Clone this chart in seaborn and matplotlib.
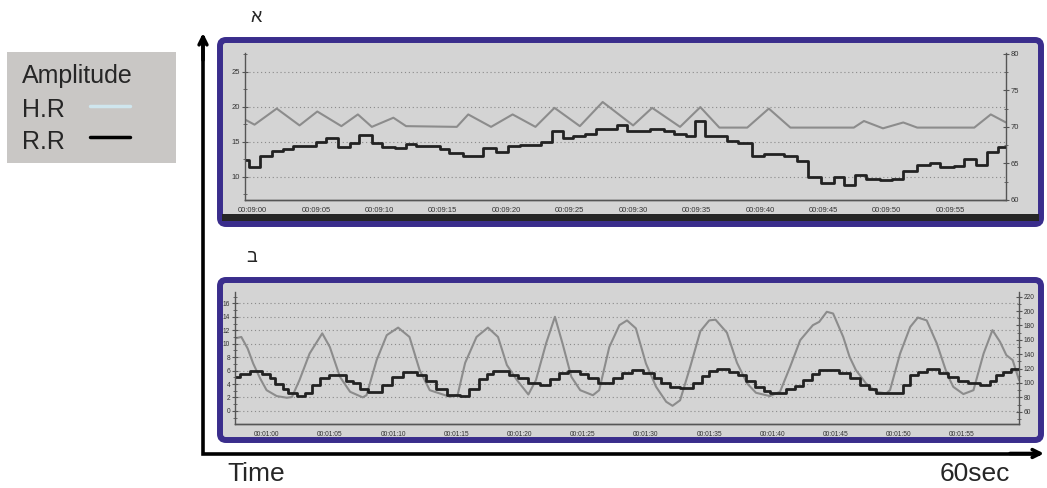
import numpy as np
import pandas as pd
import matplotlib
matplotlib.use('Agg')
import matplotlib.pyplot as plt
import seaborn as sns
from matplotlib.patches import FancyBboxPatch, Rectangle
from matplotlib.ticker import FuncFormatter, MultipleLocator

# panel a: 00:09:00 - 00:10:00 (seconds from 00:09:00)
top_rr_t = [-0.6, -0.3, 0.55, 1.5, 2.4, 3.2, 5.0, 5.8, 6.7, 7.7, 8.4, 9.4, 10.2, 11.2, 12.1, 12.9,
            14.8, 15.5, 16.6, 18.2, 19.2, 20.1, 21.1, 22.7, 23.6, 24.5, 25.3, 26.2, 27.1, 28.7,
            29.5, 30.5, 31.3, 32.4, 33.2, 34.2, 34.9, 35.7, 36.5, 37.4, 38.3, 39.4, 40.3, 41.9,
            42.9, 43.8, 44.8, 45.8, 46.6, 47.5, 48.4, 49.5, 50.4, 51.3, 52.4, 53.4, 54.2, 55.3,
            56.1, 57.0, 57.9, 58.8, 59.4]
top_rr = [12.4, 11.4, 13.0, 13.7, 14.0, 14.4, 15.0, 15.5, 14.3, 14.9, 15.95, 14.8, 14.3, 14.1, 14.7, 14.4,
          14.0, 13.4, 13.0, 14.1, 13.5, 14.4, 14.5, 15.05, 16.6, 15.5, 15.8, 16.2, 16.8, 17.4,
          16.6, 16.5, 16.9, 16.5, 16.2, 15.8, 18.0, 15.8, 15.9, 15.1, 14.8, 13.0, 13.3, 13.0,
          12.3, 10.05, 9.2, 10.05, 8.9, 10.3, 9.7, 9.5, 9.7, 10.8, 11.7, 12.05, 11.4, 11.5,
          12.5, 11.7, 13.5, 14.3, 14.3]
top_hr_t = [-0.6, 0.15, 1.9, 3.7, 5.1, 7.0, 8.3, 9.4, 11.1, 12.1, 16.1, 17.0, 18.8, 20.5, 22.3,
            23.8, 25.8, 27.6, 30.0, 31.5, 33.7, 35.3, 36.8, 39.0, 40.7, 42.4, 47.4, 48.2, 49.7,
            51.3, 52.4, 56.9, 58.2, 59.4]
top_hr = [71.0, 70.3, 72.5, 70.2, 72.1, 70.1, 71.7, 70.0, 71.25, 70.1, 70.0, 71.7, 70.0, 71.7, 70.0,
          72.6, 70.1, 73.4, 70.2, 72.6, 70.0, 72.7, 69.9, 69.9, 72.5, 69.9, 69.9, 70.8, 69.8,
          70.6, 69.9, 69.9, 71.7, 70.6]

# panel b: 00:01:00 - 00:02:00
bot_rr_t = [-2.5, -2.1, -1.3, -0.4, 0.3, 0.65, 1.3, 1.7, 2.4, 3.0, 3.6, 4.2, 4.9, 5.5, 6.3, 6.85,
            7.4, 8.0, 9.1, 9.9, 10.8, 11.9, 12.6, 13.4, 14.3, 15.3, 16.0, 16.8, 17.4, 17.9, 19.2,
            19.9, 20.7, 21.6, 22.4, 23.1, 23.8, 24.8, 25.4, 26.2, 27.4, 28.1, 28.9, 29.8, 30.6,
            31.2, 31.9, 32.7, 33.7, 34.4, 35.0, 35.6, 36.6, 37.3, 37.9, 38.6, 39.3, 39.8, 41.1,
            41.8, 42.4, 43.1, 43.7, 45.3, 46.1, 46.9, 47.6, 48.2, 50.3, 50.9, 51.5, 52.2, 53.2,
            53.9, 54.7, 55.5, 56.4, 57.2, 57.7, 58.2, 58.9, 59.5]
bot_rr = [5.1, 5.5, 6.0, 5.5, 4.9, 4.0, 3.2, 2.7, 2.2, 2.7, 3.9, 4.9, 5.4, 5.3, 4.4, 4.2,
          3.2, 2.8, 3.9, 5.0, 5.8, 5.3, 4.4, 3.2, 2.3, 2.2, 3.2, 4.7, 5.5, 6.0, 5.4,
          4.9, 4.2, 3.9, 4.7, 5.6, 6.0, 5.5, 4.9, 4.2, 4.9, 5.7, 6.1, 5.6, 4.9,
          4.2, 3.6, 3.4, 4.2, 5.2, 5.9, 6.2, 5.8, 5.3, 4.4, 3.6, 2.9, 2.7, 3.2,
          3.7, 4.6, 5.5, 6.1, 5.6, 4.9, 3.9, 3.2, 2.7, 3.9, 5.3, 5.8, 6.2, 5.7,
          5.0, 4.4, 4.2, 3.9, 4.4, 5.3, 5.8, 6.2, 6.2]
bot_hr_t = [-2.5, -2.0, -1.5, -1.06, -0.5, 0.0, 0.8, 1.6, 2.0, 2.6, 3.4, 4.4, 5.0, 5.8, 6.6, 7.6,
            7.9, 8.7, 9.5, 10.4, 11.3, 12.1, 12.9, 14.5, 15.1, 15.7, 16.6, 17.5, 18.3, 19.0,
            19.8, 20.7, 21.3, 22.1, 22.8, 23.4, 24.1, 24.8, 25.8, 26.3, 27.1, 27.9, 28.5, 29.2,
            30.0, 30.8, 31.6, 32.1, 32.7, 33.5, 34.3, 35.0, 35.5, 36.4, 37.2, 38.0, 38.7, 39.8,
            40.6, 41.4, 42.2, 43.2, 43.7, 44.3, 44.8, 45.6, 46.1, 46.6, 47.4, 48.2, 49.0, 49.3,
            50.1, 50.9, 51.5, 52.2, 53.0, 53.8, 54.3, 55.1, 55.9, 56.7, 57.4, 58.0, 58.5, 59.0, 59.5]
bot_hr = [162, 164, 148, 127, 106, 90, 81.8, 79.5, 80.5, 104, 141, 169, 150, 108.6, 87.8, 80,
          83, 131.8, 166.5, 177, 164, 118, 90, 80.8, 83, 128, 164, 177, 164, 125,
          104, 84, 104, 155, 192, 155, 108.6, 90, 83, 90, 150, 180.4, 187, 176,
          127, 94.7, 73.9, 68.3, 76, 122.5, 172, 187, 188, 170, 128, 99.4, 86.4, 81.8,
          87.8, 122.5, 159.6, 180.4, 185, 199, 196.6, 164, 136.4, 118, 99.4, 87.8, 85.5, 90.1,
          141, 178, 191, 187, 155, 113, 94.7, 84.6, 90, 141, 173.5, 157.2, 138.7, 131.8, 104]

sns.set_style('white')
plt.rcParams['font.family'] = ['Liberation Sans', 'DejaVu Sans']

W, H = 1047, 488
fig = plt.figure(figsize=(W / 100, H / 100), dpi=100)
fig.patch.set_facecolor('white')

PURPLE = '#3a2d8c'
PANEL = '#d4d4d4'
GRID = '#8a8a8a'
AXC = '#555555'

bg = fig.add_axes([0, 0, 1, 1], zorder=0)
bg.set_xlim(0, W)
bg.set_ylim(H, 0)
bg.axis('off')

# panel frames
bg.add_patch(FancyBboxPatch((220, 40), 821, 184, boxstyle='round,pad=0,rounding_size=6',
                            lw=4.3, edgecolor=PURPLE, facecolor=PANEL))
bg.add_patch(Rectangle((222, 214), 817, 7, facecolor='#262626', edgecolor='none'))
bg.add_patch(FancyBboxPatch((220, 280), 821, 160, boxstyle='round,pad=0,rounding_size=6',
                            lw=4.3, edgecolor=PURPLE, facecolor=PANEL))

# outer time / amplitude axes
bg.plot([203, 203, 1040], [36, 453.5, 453.5], color='black', lw=2.6,
        solid_joinstyle='miter', solid_capstyle='butt')
bg.annotate('', xy=(203, 33), xytext=(203, 60),
            arrowprops=dict(arrowstyle='->', lw=2.6, color='black', mutation_scale=14,
                            shrinkA=0, shrinkB=0))
bg.annotate('', xy=(1044, 453.5), xytext=(1010, 453.5),
            arrowprops=dict(arrowstyle='->', lw=2.6, color='black', mutation_scale=14,
                            shrinkA=0, shrinkB=0))
bg.text(227, 481, 'Time', fontsize=19, ha='left', va='baseline')
bg.text(940, 481, '60sec', fontsize=19, ha='left', va='baseline')

bg.text(256, 18, 'א', fontsize=13, ha='center', va='center')
bg.text(252, 258, 'ב', fontsize=13, ha='center', va='center')

# legend box
bg.add_patch(Rectangle((7, 52), 169, 111, facecolor='#c9c7c5', edgecolor='none'))
bg.text(22, 76, 'Amplitude', fontsize=18, ha='left', va='center')
bg.text(22, 110, 'H.R', fontsize=18, ha='left', va='center')
bg.text(22, 142, 'R.R', fontsize=18, ha='left', va='center')
bg.plot([90, 130], [106, 106], color='#cfe6ee', lw=2.5)
bg.plot([90, 130], [137, 137], color='black', lw=2.5)


def make_panel(left, right, top, bottom):
    rect = [left / W, 1 - bottom / H, (right - left) / W, (bottom - top) / H]
    ax2 = fig.add_axes(rect, zorder=1)
    ax = ax2.twinx()
    ax.yaxis.tick_left()
    ax.yaxis.set_label_position('left')
    ax2.yaxis.tick_right()
    ax.set_zorder(3)
    ax2.set_zorder(2)
    ax.patch.set_visible(False)
    ax2.set_facecolor(PANEL)
    for a in (ax, ax2):
        a.spines['top'].set_visible(False)
        for s in a.spines.values():
            s.set_color(AXC)
            s.set_linewidth(1)
    ax.spines['right'].set_visible(False)
    ax2.spines['left'].set_visible(False)
    return ax, ax2


def draw(ax, ax2, rr_t, rr, hr_t, hr):
    rr_df = pd.DataFrame({'t': rr_t, 'v': rr})
    hr_df = pd.DataFrame({'t': hr_t, 'v': hr})
    sns.lineplot(data=hr_df, x='t', y='v', ax=ax2, color='#8c8c8c', lw=1.5,
                 estimator=None, sort=False)
    sns.lineplot(data=rr_df, x='t', y='v', ax=ax, color='#222222', lw=2.0,
                 drawstyle='steps-post', estimator=None, sort=False)
    for a in (ax, ax2):
        a.set_xlabel('')
        a.set_ylabel('')


def style(ax, ax2, prefix, xlim, ylim_l, ylim_r, lstep, lminor, rstep, rminor, fs):
    ax.set_xlim(*xlim)
    ax2.set_xlim(*xlim)
    ax.set_ylim(*ylim_l)
    ax2.set_ylim(*ylim_r)
    ax.xaxis.set_major_locator(MultipleLocator(5))
    ax2.xaxis.set_major_locator(MultipleLocator(5))
    fmt = FuncFormatter(lambda x, p: '%s%02d' % (prefix, int(round(x))))
    ax2.xaxis.set_major_formatter(fmt)
    ax.yaxis.set_major_locator(MultipleLocator(lstep))
    ax.yaxis.set_minor_locator(MultipleLocator(lminor))
    ax2.yaxis.set_major_locator(MultipleLocator(rstep))
    ax2.yaxis.set_minor_locator(MultipleLocator(rminor))
    ax.yaxis.set_major_formatter(FuncFormatter(lambda y, p: '%d' % y))
    ax2.yaxis.set_major_formatter(FuncFormatter(lambda y, p: '%d' % y))
    ax.grid(True, which='major', linestyle=(0, (1, 2.5)), color=GRID, lw=0.8)
    ax2.grid(False)
    # vertical grid lines on x ticks
    ax.xaxis.grid(True, linestyle=(0, (1, 2.5)), color=GRID, lw=0.8)
    ax.tick_params(axis='y', which='major', direction='inout', length=4, width=0.8,
                   colors=AXC, labelsize=fs, labelcolor='#333333', pad=1.5)
    ax.tick_params(axis='y', which='minor', direction='inout', length=2.5, width=0.6, colors=AXC)
    ax2.tick_params(axis='y', which='major', direction='inout', length=4, width=0.8,
                    colors=AXC, labelsize=fs, labelcolor='#333333', pad=1.5)
    ax2.tick_params(axis='y', which='minor', direction='inout', length=2.5, width=0.6, colors=AXC)
    ax2.tick_params(axis='x', direction='inout', length=4, width=0.8, colors=AXC,
                    labelsize=fs, labelcolor='#333333', pad=3)
    ax.tick_params(axis='x', length=0, labelbottom=False)


ax_a, ax_a2 = make_panel(245, 1006, 53, 200)
draw(ax_a, ax_a2, top_rr_t, top_rr, top_hr_t, top_hr)
style(ax_a, ax_a2, '00:09:', (-0.6, 59.4), (6.7, 27.7), (60, 80.1), 5, 2.5, 5, 2.5, 5.5)

ax_b, ax_b2 = make_panel(235, 1019, 292, 424)
draw(ax_b, ax_b2, bot_rr_t, bot_rr, bot_hr_t, bot_hr)
style(ax_b, ax_b2, '00:01:', (-2.5, 59.5), (-1.95, 17.7), (43, 226.5), 2, 1, 20, 10, 4.8)

fig.savefig('out.png', dpi=100, facecolor='white')
